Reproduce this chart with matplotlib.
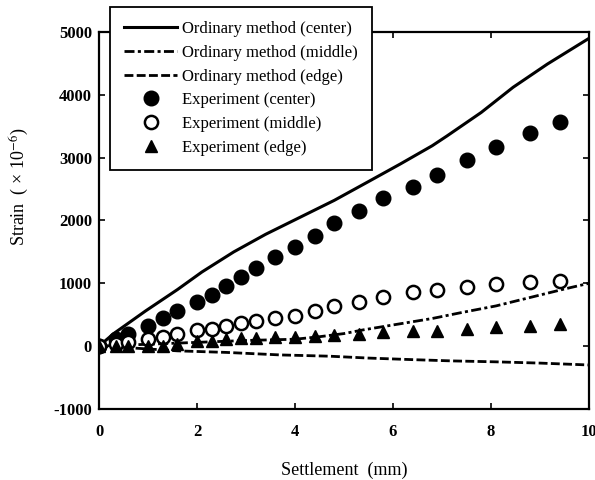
import numpy as np
import matplotlib
matplotlib.use('Agg')
import matplotlib.pyplot as plt

plt.rcParams['font.family'] = ['Liberation Serif', 'DejaVu Serif']
plt.rcParams['mathtext.fontset'] = 'stix'
plt.rcParams['axes.unicode_minus'] = False

# measured settlement (mm) and strain (x1e-6)
settle_exp = [0, 0.35, 0.6, 1.0, 1.3, 1.6, 2.0, 2.3, 2.6, 2.9, 3.2, 3.6,
              4.0, 4.4, 4.8, 5.3, 5.8, 6.4, 6.9, 7.5, 8.1, 8.8, 9.4]
exp_center = [0, 110, 200, 320, 450, 560, 700, 810, 955, 1100, 1240, 1420,
              1580, 1760, 1960, 2150, 2350, 2530, 2730, 2960, 3170, 3390, 3560]
exp_middle = [0, 40, 70, 115, 150, 200, 255, 280, 320, 370, 395, 450,
              480, 560, 640, 695, 775, 855, 900, 935, 990, 1025, 1040]
exp_edge = [0, 10, 10, 5, 5, 30, 80, 85, 110, 130, 135, 140,
            140, 160, 185, 190, 218, 245, 245, 270, 297, 323, 350]

# ordinary method results
calc_x_center = [0, 0.3, 0.95, 1.6, 2.1, 2.75, 3.4, 4.1, 4.8, 5.5, 6.15, 6.8,
                 7.1, 7.8, 8.45, 9.15, 10]
calc_center = [0, 200, 560, 900, 1180, 1500, 1780, 2050, 2320, 2620, 2900, 3190,
               3345, 3720, 4120, 4490, 4900]
calc_x_middle = [0, 1, 2, 3, 4, 4.5, 5.0, 5.4, 6.1, 6.8, 7.4, 8.1, 8.8, 9.5, 10]
calc_middle = [0, 30, 60, 90, 110, 150, 200, 260, 350, 440, 535, 640, 775, 910, 1000]
calc_x_edge = [0, 0.5, 1, 1.6, 2.6, 3.7, 4.7, 5.5, 6.4, 7.2, 8.1, 9, 10]
calc_edge = [0, -20, -45, -75, -100, -140, -160, -190, -215, -235, -250, -270, -300]

xticks = [0, 2, 4, 6, 8, 10]
yticks = [-1000, 0, 1000, 2000, 3000, 4000, 5000]

fig = plt.figure(figsize=(5.95, 4.8), dpi=100)
ax = fig.add_axes([0.1664, 0.148, 0.8236, 0.7853])

ax.plot(calc_x_center, calc_center, '-', color='black', lw=2.2, label='Ordinary method (center)')
ax.plot(calc_x_middle, calc_middle, color='black', lw=2.0, dashes=(3.6, 1.2, 1.1, 1.2),
        label='Ordinary method (middle)')
ax.plot(calc_x_edge, calc_edge, color='black', lw=2.0, dashes=(3.2, 1.2),
        label='Ordinary method (edge)')
ax.plot(settle_exp, exp_center, 'o', color='black', ms=10.5, ls='none',
        label='Experiment (center)')
ax.plot(settle_exp, exp_middle, 'o', mfc='white', mec='black', mew=1.8, ms=9.5, ls='none',
        label='Experiment (middle)')
ax.plot(settle_exp, exp_edge, '^', color='black', ms=9, ls='none',
        label='Experiment (edge)')

ax.set_xlim(0, 10)
ax.set_ylim(-1000, 5000)
ax.set_xticks(xticks)
ax.set_yticks(yticks)
ax.tick_params(direction='in', top=True, right=True, length=4, width=1.2)
ax.tick_params(axis='x', pad=11)
ax.tick_params(axis='y', pad=5)
for lab in ax.get_xticklabels() + ax.get_yticklabels():
    lab.set_fontsize(12)
    lab.set_fontweight('bold')
for sp in ax.spines.values():
    sp.set_linewidth(1.6)

ax.set_xlabel('Settlement  (mm)', fontsize=13)
ax.set_ylabel('Strain  ( × 10$^{-6}$)', fontsize=13)
ax.yaxis.set_label_coords(-0.138, 0.59)
ax.xaxis.set_label_coords(0.5, -0.14)

leg = ax.legend(loc='upper left', bbox_to_anchor=(0.022, 1.066), fontsize=12.0,
                handlelength=3.2, handletextpad=0.3, labelspacing=0.46,
                borderpad=0.85, borderaxespad=0, fancybox=False, framealpha=1,
                edgecolor='black')
leg.get_frame().set_linewidth(1.3)
leg.set_zorder(5)

fig.savefig('out.png', dpi=100)
